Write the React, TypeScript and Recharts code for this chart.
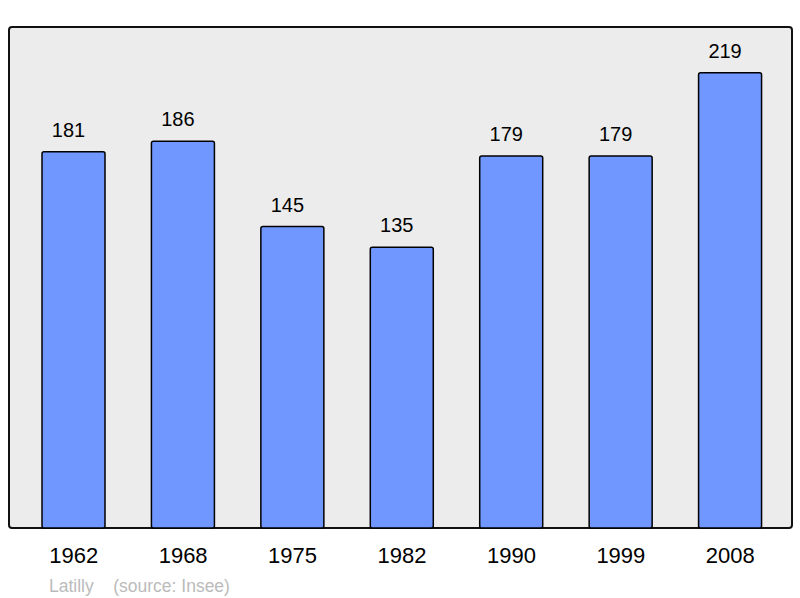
import { BarChart, Bar, XAxis, YAxis, LabelList } from 'recharts';

const years = ['1962', '1968', '1975', '1982', '1990', '1999', '2008'];
const population = [181, 186, 145, 135, 179, 179, 219];

const data = years.map((year, i) => ({ year, value: population[i] }));

export default function App() {
  return (
    <div style={{ position: 'absolute', left: 0, top: 0, width: 800, height: 598, fontFamily: 'Liberation Sans, Arial, sans-serif' }}>
      {/* cadre gris */}
      <div
        style={{
          position: 'absolute',
          left: 8,
          top: 26,
          width: 781,
          height: 499,
          background: '#ececec',
          border: '2px solid #111',
          borderRadius: 4,
        }}
      />
      <div style={{ position: 'absolute', left: 0, top: 0 }}>
        <BarChart width={800} height={598} data={data} margin={{ top: 27, left: 10, right: 7, bottom: 40 }}>
          <XAxis
            dataKey="year"
            height={30}
            axisLine={false}
            tickLine={false}
            tickMargin={13}
            padding={{ left: 9, right: 8 }}
            tick={{ fill: '#000', fontSize: 22 }}
            interval={0}
          />
          <YAxis hide domain={[0, 241]} />
          <Bar dataKey="value" barSize={63} fill="#6f97ff" stroke="#000" strokeWidth={1.5} radius={2} isAnimationActive={false}>
            <LabelList dataKey="value" position="top" offset={15} dx={-5} fill="#000" fontSize={20} />
          </Bar>
        </BarChart>
      </div>
      <div style={{ position: 'absolute', left: 49, top: 576, fontSize: 17.5, color: '#bbb', whiteSpace: 'pre' }}>
        Latilly{'    '}(source: Insee)
      </div>
    </div>
  );
}
